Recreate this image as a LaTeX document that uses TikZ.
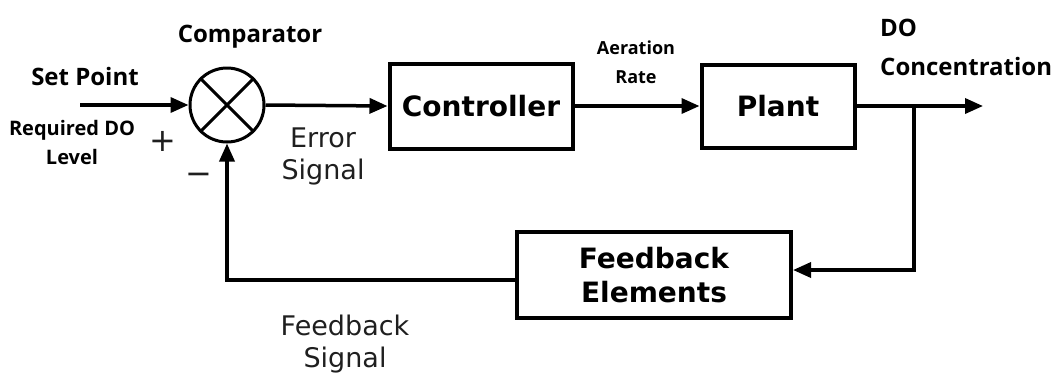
\documentclass[tikz,border=0pt]{standalone}
\usepackage{fontspec}
\setmainfont{Open Sans}
\newfontfamily\dvs{DejaVu Sans}
\usetikzlibrary{arrows.meta,calc}

\begin{document}
\begin{tikzpicture}[x=1pt,y=-1pt,
  wire/.style={line width=3.5pt},
  sig/.style={wire,-{Triangle[length=18pt,width=15pt]}},
  blockbox/.style={draw,line width=4pt,inner sep=0pt,align=center,
    font=\dvs\bfseries\fontsize{28}{34}\selectfont},
  tag/.style={font=\bfseries\fontsize{24}{39}\selectfont,inner sep=0pt},
  small/.style={font=\bfseries\fontsize{18}{29}\selectfont,inner sep=0pt,align=center},
  plain/.style={font=\dvs\fontsize{27}{32}\selectfont,text=black!88,inner sep=0pt,align=center},
  sign/.style={font=\dvs\fontsize{32}{32}\selectfont,text=black!88,inner sep=0pt}]
\useasboundingbox (0,0) rectangle (1059,376);

% blocks
\node[blockbox,minimum width=183pt,minimum height=85pt] (ctrl) at (481,106) {Controller};
\node[blockbox,minimum width=153pt,minimum height=83pt] (plant) at (778,106) {Plant};
\node[blockbox,minimum width=274pt,minimum height=86pt] (fb) at (654,275) {Feedback\\Elements};

% comparator (summing junction)
\node[draw,circle,line width=3pt,minimum size=74pt,inner sep=0pt] (cmp) at (227,105) {};
\draw[line width=3pt] (cmp.north west) -- (cmp.south east)
                      (cmp.north east) -- (cmp.south west);

% forward path
\coordinate (in) at (80,105);
\coordinate (out) at (983,106);
\coordinate (tap) at (914,106);
\draw[sig] (in) -- (cmp.west);
\draw[sig] (cmp.east) -- (ctrl.west);
\draw[sig] (ctrl.east) -- (plant.west);
\draw[sig] (plant.east) -- (out);

% feedback path
\draw[sig,line join=miter] (tap) |- ($(fb.east)+(0,-5)$);
\draw[sig,line join=miter] ($(fb.west)+(0,5)$) -| (cmp.south);

% labels
\node[tag] (cmplbl) at (250,37) {Comparator};
\node[tag] (sp) at (85,76) {Set Point};
\node[small,font=\bfseries\fontsize{20}{29}\selectfont] (req) at (72,142) {Required DO\\Level};
\node[sign] (plus) at (163,141) {+};
\node[sign] (minus) at (199,179) {−};
\node[plain] (err) at (323,156) {Error\\Signal};
\node[small] (aer) at (636,62) {Aeration\\Rate};
\node[tag,align=left,anchor=west] (doc) at (880,47) {DO\\Concentration};
\node[plain] (fbs) at (345,344) {Feedback\\Signal};
\end{tikzpicture}
\end{document}
